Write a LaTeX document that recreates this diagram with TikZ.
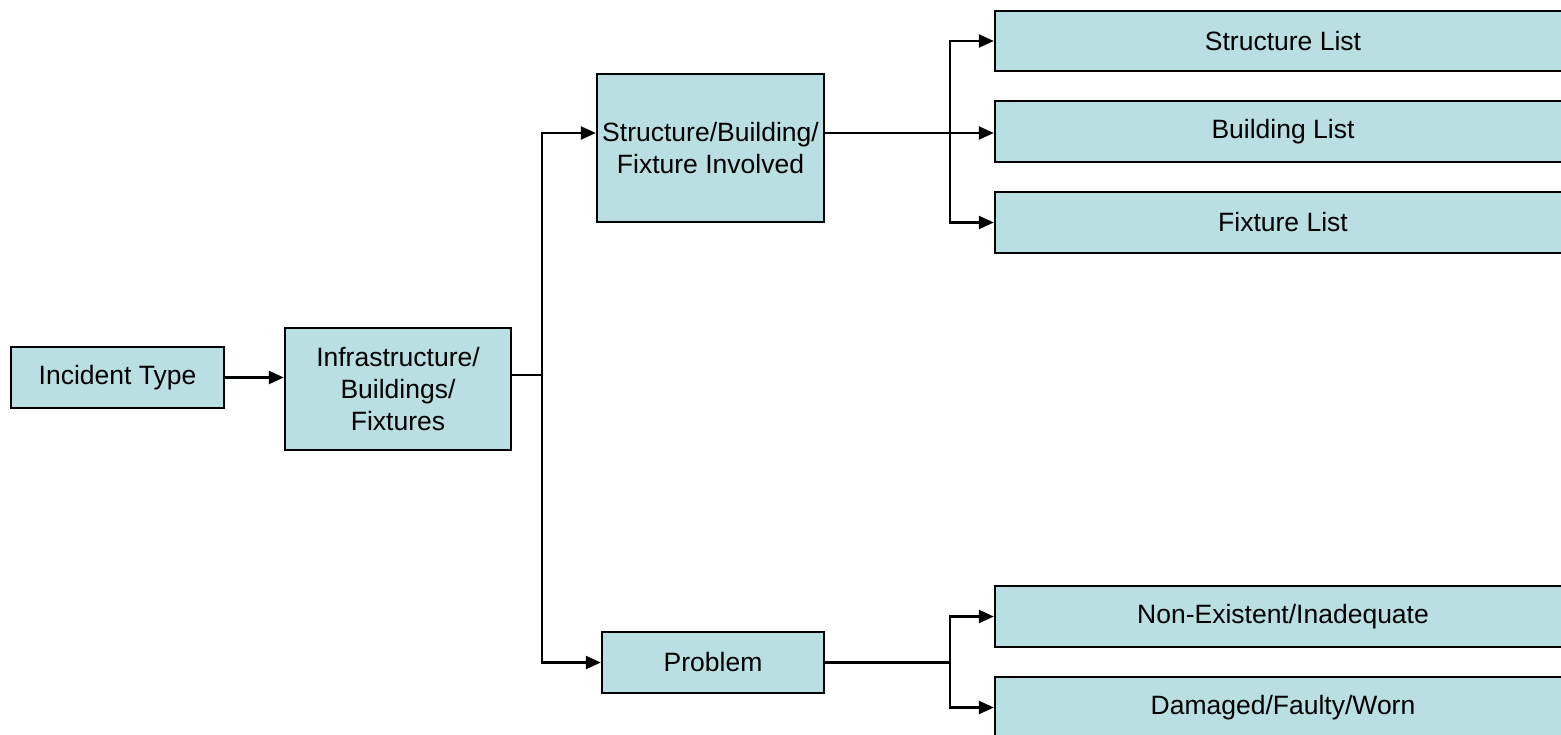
\documentclass[tikz,border=0pt]{standalone}
\usepackage{fontspec}
\setmainfont{Liberation Sans}
\usetikzlibrary{arrows.meta}
\definecolor{boxfill}{HTML}{B9DFE2}
\begin{document}
\begin{tikzpicture}[x=1pt,y=-1pt,
  box/.style={draw=black,line width=2.4pt,fill=boxfill,inner sep=0pt,align=center,
    font=\fontsize{26.5}{32}\selectfont},
  conn/.style={line width=2.4pt,-{Triangle[length=15pt,width=13pt]}},
  plain/.style={line width=2.4pt}]
\clip (0,0) rectangle (1561,734);
\useasboundingbox (0,0) rectangle (1561,734);
\node[box,minimum width=213pt,minimum height=61pt] (inc) at (117.5,377.5) {\raisebox{-2pt}{Incident Type}};
\node[box,minimum width=226pt,minimum height=122pt] (infra) at (398,389) {Infrastructure/\\Buildings/\\Fixtures};
\node[box,minimum width=227pt,minimum height=148pt] (sbf) at (710.5,148) {Structure/Building/\\Fixture Involved};
\node[box,minimum width=222pt,minimum height=61pt] (prob) at (713,662.5) {\raisebox{-2pt}{Problem}};
\node[box,minimum width=576pt,minimum height=60pt] (sl) at (1283,41) {\raisebox{-2pt}{Structure List}};
\node[box,minimum width=576pt,minimum height=61pt] (bl) at (1283,131.5) {\raisebox{-2pt}{Building List}};
\node[box,minimum width=576pt,minimum height=61pt] (fl) at (1283,222.5) {\raisebox{-2pt}{Fixture List}};
\node[box,minimum width=576pt,minimum height=61pt] (ne) at (1283,616.5) {\raisebox{-2pt}{Non-Existent/Inadequate}};
\node[box,minimum width=576pt,minimum height=61pt] (dm) at (1283,707.5) {\raisebox{-2pt}{Damaged/Faulty/Worn}};
\coordinate (j1) at (542,375);
\coordinate (j2) at (950,133);
\coordinate (j3) at (950,662.5);
\draw[conn] (inc.east) -- (infra.west |- inc.east);
\draw[plain] (infra.east |- j1) -- (j1);
\draw[conn] (j1) |- (sbf.west |- 0,133);
\draw[conn] (j1) |- (prob.west);
\draw[conn] (sbf.east |- j2) -- (bl.west |- j2);
\draw[conn] (j2) |- (sl.west);
\draw[conn] (j2) |- (fl.west);
\draw[plain] (prob.east) -- (j3);
\draw[conn] (j3) |- (ne.west);
\draw[conn] (j3) |- (dm.west);
\end{tikzpicture}
\end{document}
